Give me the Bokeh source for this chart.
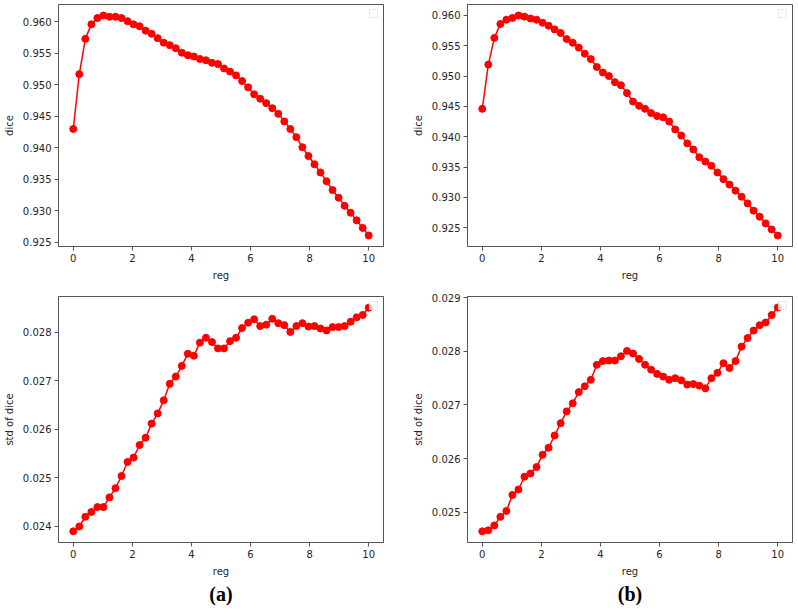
from bokeh.plotting import figure
from bokeh.models import Range1d, FixedTicker, PrintfTickFormatter, Legend, LegendItem, Title
from bokeh.layouts import column, row
from bokeh.embed import file_html
from bokeh.resources import INLINE

reg = [0.0, 0.2041, 0.4082, 0.6122, 0.8163, 1.0204, 1.2245, 1.4286, 1.6327, 1.8367,
       2.0408, 2.2449, 2.4490, 2.6531, 2.8571, 3.0612, 3.2653, 3.4694, 3.6735, 3.8776,
       4.0816, 4.2857, 4.4898, 4.6939, 4.8980, 5.1020, 5.3061, 5.5102, 5.7143, 5.9184,
       6.1224, 6.3265, 6.5306, 6.7347, 6.9388, 7.1429, 7.3469, 7.5510, 7.7551, 7.9592,
       8.1633, 8.3673, 8.5714, 8.7755, 8.9796, 9.1837, 9.3878, 9.5918, 9.7959, 10.0]

dice_a = [0.9430, 0.9517, 0.9573, 0.9596, 0.9606, 0.9610, 0.9608, 0.9608, 0.9606, 0.9601,
          0.9596, 0.9593, 0.9586, 0.9581, 0.9574, 0.9567, 0.9563, 0.9558, 0.9551, 0.9547,
          0.9545, 0.9541, 0.9539, 0.9535, 0.9533, 0.9526, 0.9521, 0.9515, 0.9506, 0.9496,
          0.9485, 0.9478, 0.9471, 0.9463, 0.9454, 0.9442, 0.9430, 0.9417, 0.9401, 0.9387,
          0.9374, 0.9361, 0.9347, 0.9333, 0.9321, 0.9308, 0.9297, 0.9285, 0.9273, 0.9261]

dice_b = [0.9446, 0.9519, 0.9563, 0.9586, 0.9593, 0.9596, 0.9600, 0.9598, 0.9595, 0.9593,
          0.9588, 0.9583, 0.9577, 0.9571, 0.9561, 0.9555, 0.9547, 0.9537, 0.9528, 0.9515,
          0.9506, 0.9500, 0.9490, 0.9485, 0.9472, 0.9458, 0.9451, 0.9446, 0.9439, 0.9434,
          0.9432, 0.9425, 0.9412, 0.9402, 0.9389, 0.9379, 0.9366, 0.9359, 0.9352, 0.9341,
          0.9330, 0.9321, 0.9311, 0.9301, 0.9290, 0.9278, 0.9268, 0.9257, 0.9247, 0.9237]

std_a = [0.02390, 0.02400, 0.02420, 0.02430, 0.02440, 0.02440, 0.02460, 0.02479, 0.02504, 0.02533,
         0.02542, 0.02568, 0.02583, 0.02612, 0.02633, 0.02660, 0.02694, 0.02709, 0.02731, 0.02756,
         0.02752, 0.02779, 0.02789, 0.02780, 0.02767, 0.02767, 0.02782, 0.02789, 0.02809, 0.02820,
         0.02827, 0.02813, 0.02816, 0.02828, 0.02819, 0.02815, 0.02801, 0.02813, 0.02819, 0.02812,
         0.02813, 0.02808, 0.02804, 0.02811, 0.02811, 0.02813, 0.02822, 0.02831, 0.02836, 0.02851]

std_b = [0.02464, 0.02466, 0.02475, 0.02491, 0.02502, 0.02532, 0.02542, 0.02566, 0.02572, 0.02584,
         0.02607, 0.02620, 0.02643, 0.02666, 0.02688, 0.02703, 0.02724, 0.02735, 0.02747, 0.02775,
         0.02782, 0.02783, 0.02783, 0.02791, 0.02801, 0.02796, 0.02786, 0.02775, 0.02766, 0.02758,
         0.02753, 0.02747, 0.02750, 0.02746, 0.02738, 0.02739, 0.02736, 0.02731, 0.02750, 0.02760,
         0.02778, 0.02769, 0.02782, 0.02809, 0.02825, 0.02839, 0.02849, 0.02854, 0.02868, 0.02882]

x_ticks = [0, 2, 4, 6, 8, 10]
dice_ticks = [0.925, 0.930, 0.935, 0.940, 0.945, 0.950, 0.955, 0.960]
std_ticks_a = [0.024, 0.025, 0.026, 0.027, 0.028]
std_ticks_b = [0.025, 0.026, 0.027, 0.028, 0.029]

FONT = "DejaVu Sans"
TXT = "#262626"
FRAME = "#555555"


def panel(ys, yrange, yticks, ylabel, caption=None, right_border=2, top=4, bottom=47):
    p = figure(frame_width=325, frame_height=242 if caption is None else 246,
               x_range=Range1d(-0.5, 10.5), y_range=Range1d(*yrange),
               output_backend="svg", toolbar_location=None,
               min_border_left=52, min_border_right=right_border,
               min_border_top=top, min_border_bottom=bottom)
    p.background_fill_color = "white"
    p.border_fill_color = "white"
    p.outline_line_color = FRAME
    p.outline_line_width = 1
    p.grid.visible = False
    p.line(reg, ys, line_color="#ff0000", line_width=1.5)
    p.scatter(reg, ys, size=7, fill_color="#ff0000", line_color="#ff0000")
    dummy = p.scatter(reg[:1], ys[:1], size=1, alpha=0)
    leg = Legend(items=[LegendItem(label=" ", renderers=[dummy])], location="top_right",
                 glyph_width=1, glyph_height=1, label_width=0, label_height=0,
                 label_standoff=0, padding=3, margin=5, spacing=0,
                 label_text_font_size="1px", border_line_color="#d6d6d6",
                 background_fill_alpha=0.8)
    p.add_layout(leg)
    p.xaxis.ticker = FixedTicker(ticks=x_ticks)
    p.yaxis.ticker = FixedTicker(ticks=yticks)
    p.yaxis.formatter = PrintfTickFormatter(format="%.3f")
    for ax in (p.xaxis[0], p.yaxis[0]):
        ax.axis_line_color = FRAME
        ax.major_tick_line_color = FRAME
        ax.major_tick_in = 0
        ax.major_tick_out = 4
        ax.minor_tick_line_color = None
        ax.major_label_text_font = FONT
        ax.major_label_text_font_size = "10px"
        ax.major_label_text_color = TXT
        ax.major_label_standoff = 3
        ax.axis_label_text_font = FONT
        ax.axis_label_text_font_size = "10px"
        ax.axis_label_text_font_style = "normal"
        ax.axis_label_text_color = TXT
        ax.axis_label_standoff = 5
    p.xaxis.axis_label = "reg"
    p.yaxis.axis_label = ylabel
    if caption is not None:
        p.add_layout(Title(text=caption, align="center", text_font="Liberation Serif",
                           text_font_style="bold", text_font_size="20px",
                           text_color="#000000", standoff=2, offset=0), "below")
    return p


p1 = panel(dice_a, (0.92435, 0.96275), dice_ticks, "dice", right_border=26)
p2 = panel(dice_b, (0.92189, 0.96181), dice_ticks, "dice", right_border=2)
p3 = panel(std_a, (0.02367, 0.02874), std_ticks_a, "std of dice", caption="(a)",
           right_border=26, top=3, bottom=0)
p4 = panel(std_b, (0.024431, 0.029026), std_ticks_b, "std of dice", caption="(b)",
           right_border=2, top=3, bottom=0)

layout = column(row(p1, p2), row(p3, p4))

with open("out.html", "w") as f:
    f.write(file_html(layout, INLINE))
